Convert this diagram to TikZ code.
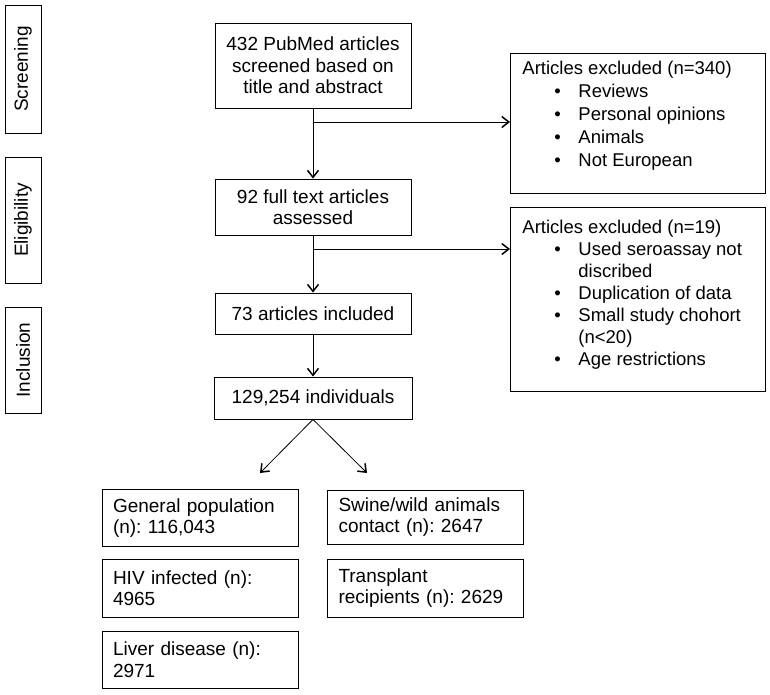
\documentclass[tikz,border=0pt]{standalone}
\usepackage{fontspec}
\setmainfont{Liberation Sans}
\usetikzlibrary{arrows.meta}
\frenchspacing
\newcommand\exitem[1]{\par\hspace*{32pt}\makebox[24pt][l]{\textbullet}#1}
\newcommand\excont[1]{\par\hspace*{56pt}#1}
\begin{document}
\begin{tikzpicture}[x=1pt,y=-1pt,
	box/.style={draw,line width=0.9pt,inner sep=0pt,font=\fontsize{19}{21.5}\selectfont,align=center},
	phase/.style={box,rotate=90,minimum height=36},
	group/.style={box,align=left,text width=174,inner xsep=11,minimum height=57},
	excl/.style={box,anchor=north west,inner xsep=12,inner ysep=0,align=left},
	arr/.style={line width=1pt,-{Straight Barb[length=7pt,width=11pt,line width=1.5pt]}}]
	\useasboundingbox (0,0) rectangle (770,694);
	% phases on the left
	\node[phase,minimum width=128] (screen) at (23,69) {Screening};
	\node[phase,minimum width=126] (elig) at (23,220) {Eligibility};
	\node[phase,minimum width=106] (incl) at (23,360) {Inclusion};
	% main column
	\node[box,minimum width=196,minimum height=85] (articles) at (313,65.5) {432 PubMed articles\\screened based on\\title and abstract};
	\node[box,minimum width=196,minimum height=56] (fulltext) at (313,207) {92 full text articles\\assessed};
	\node[box,minimum width=196,minimum height=41] (included) at (313,313.5) {73 articles included};
	\node[box,minimum width=198,minimum height=42] (indiv) at (313,398) {129,254 individuals};
	% excluded
	\node[excl] (excl1) at (510,53) {\begin{minipage}[c][140pt][t]{231pt}\fontsize{18.5}{23}\selectfont
		\vspace*{8pt}Articles excluded (n=340)
		\exitem{Reviews}
		\exitem{Personal opinions}
		\exitem{Animals}
		\exitem{Not European}
	\end{minipage}};
	\node[excl] (excl2) at (510,207) {\begin{minipage}[c][184pt][t]{231pt}\fontsize{18.5}{22}\selectfont
		\vspace*{13pt}Articles excluded (n=19)
		\exitem{Used seroassay not}
		\excont{discribed}
		\exitem{Duplication of data}
		\exitem{Small study chohort}
		\excont{(n<20)}
		\exitem{Age restrictions}
	\end{minipage}};
	% groups
	\node[group] (genpop) at (200,518) {General population\\(n): 116,043};
	\node[group,minimum height=58] (hiv) at (200,588) {HIV infected (n):\\4965};
	\node[group] (liver) at (200,659.5) {Liver disease (n):\\2971};
	\node[group,minimum height=54] (swine) at (425.5,517) {Swine/wild animals\\contact (n): 2647};
	\node[group,minimum height=58] (transpl) at (425.5,588) {Transplant\\recipients (n): 2629};
	% connectors
	\coordinate (br1) at (313,122);
	\coordinate (br2) at (313,249);
	\coordinate (tipL) at (260,473);
	\coordinate (tipR) at (367,473);
	\draw[arr] (articles) -- (fulltext);
	\draw[arr] (br1) -- (br1 -| excl1.west);
	\draw[arr] (fulltext) -- (included);
	\draw[arr] (br2) -- (br2 -| excl2.west);
	\draw[arr] (included) -- (indiv);
	\draw[arr,line width=0.8pt] (indiv.south) -- (tipL);
	\draw[arr,line width=0.8pt] (indiv.south) -- (tipR);
\end{tikzpicture}
\end{document}
